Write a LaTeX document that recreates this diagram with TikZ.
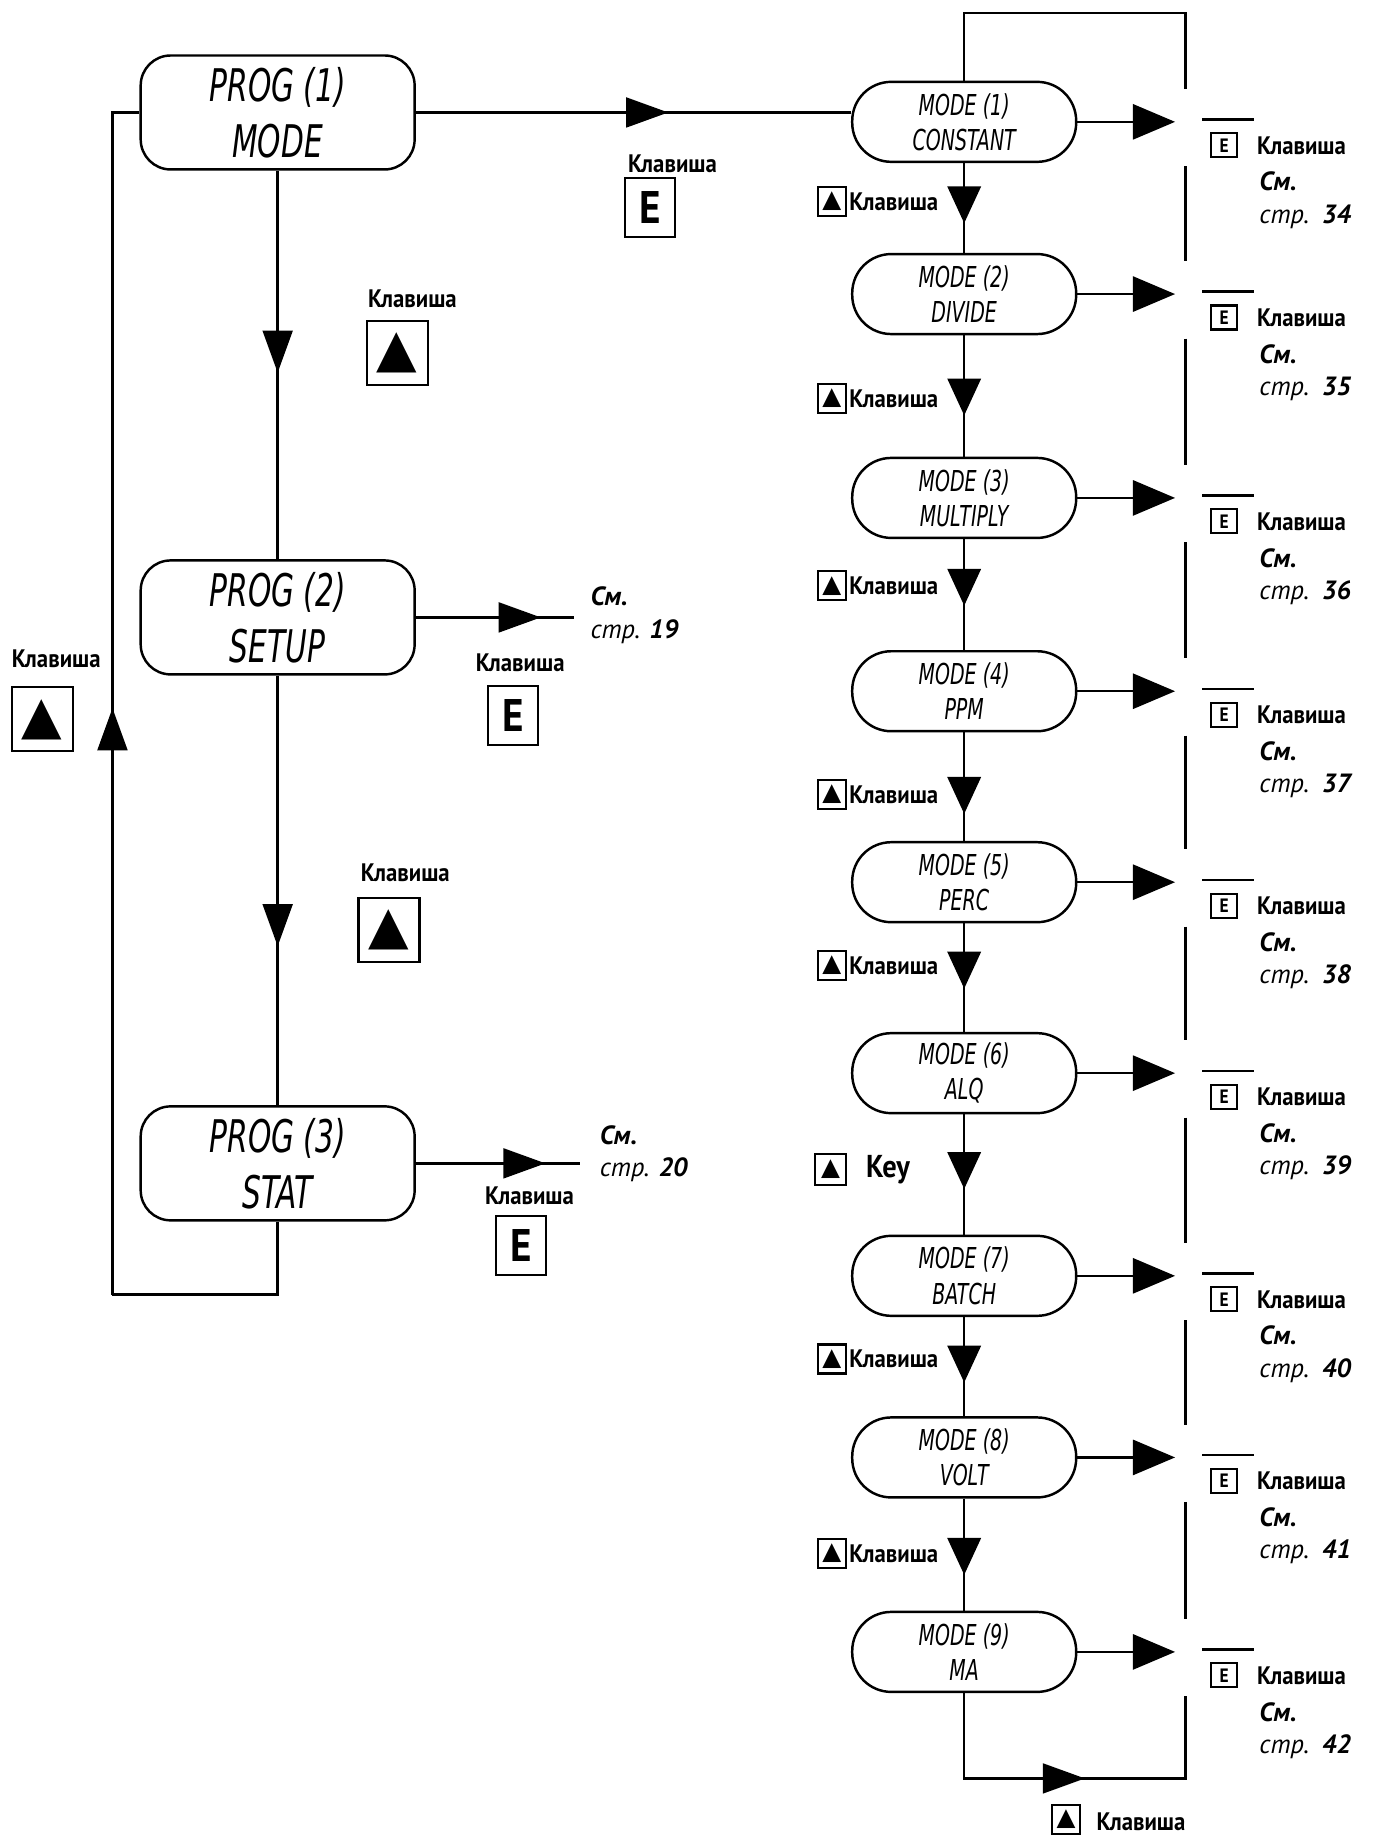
\documentclass[tikz,border=0pt]{standalone}
\usepackage{fontspec}
\setmainfont{PT Sans}
\newfontfamily\lcdfont{DejaVu Sans}[FakeStretch=0.66]
\newfontfamily\keyfont{PT Sans}[FakeStretch=0.9]
\newfontfamily\symfont{DejaVu Sans}
\usetikzlibrary{arrows.meta,decorations.markings,positioning}

\begin{document}
\begin{tikzpicture}[
    x=0.011712cm, y=-0.011712cm,
    line width=0.7pt,
    prog/.style={
        draw,
        rounded corners=3mm,
        minimum width=27.4mm,
        minimum height=11.4mm,
        inner sep=0pt,
        align=center,
        font=\lcdfont\itshape\fontsize{12.8}{16}\selectfont
    },
    mode/.style={
        draw,
        rounded corners=3.9mm,
        minimum width=22.4mm,
        minimum height=8mm,
        inner sep=0pt,
        align=center,
        font=\lcdfont\itshape\fontsize{8.2}{10}\selectfont
    },
    keyword/.style={inner sep=0pt, font=\keyfont\bfseries\fontsize{7.2}{9}\selectfont},
    ebox/.style={draw, line width=0.6pt, inner sep=0pt,
                 minimum width=5mm, minimum height=5.9mm,
                 font=\keyfont\bfseries\fontsize{13}{13}\selectfont},
    small ebox/.style={ebox, minimum width=2.6mm, minimum height=2.4mm,
                       font=\keyfont\bfseries\fontsize{5.5}{5.5}\selectfont},
    upbox/.style={draw, line width=0.6pt, inner sep=0pt,
                  minimum width=6.1mm, minimum height=6.4mm,
                  font=\symfont\fontsize{15}{15}\selectfont},
    small upbox/.style={upbox, minimum width=2.8mm, minimum height=2.9mm,
                        font=\symfont\fontsize{7}{7}\selectfont},
    page ref/.style={align=left, inner sep=0pt,
                     font=\itshape\fontsize{7.5}{9.2}\selectfont},
    tip/.style={-{Triangle[length=12pt,width=10pt]}},
    mid tip/.style={postaction={decorate},
        decoration={markings, mark=at position #1 with
            {\arrow{Triangle[length=12pt,width=8.5pt]}}}},
    mode tip/.style={postaction={decorate},
        decoration={markings, mark=at position #1 with
            {\arrow{Triangle[length=10.5pt,width=9.5pt]}}}}
]
    \useasboundingbox (0,0) rectangle (1174,1568);

    % program level
    \node[prog] (prog1) at (237,96) {PROG (1)\\MODE};
    \node[prog] (prog2) at (237,527) {PROG (2)\\SETUP};
    \node[prog] (prog3) at (237,993) {PROG (3)\\STAT};

    \draw[mid tip=0.52] (prog1) -- (prog2);
    \draw[mid tip=0.63] (prog2) -- (prog3);

    \coordinate (loop) at (96,1105);
    \draw (prog3.south) |- (loop);
    \draw[mid tip=0.485] (loop) |- (prog1.west);

    \node[keyword] at (48,562) {Клавиша};
    \node[upbox] at (36,614) {▲};
    \node[keyword] at (352,255) {Клавиша};
    \node[upbox] at (339,301) {▲};
    \node[keyword] at (346,745) {Клавиша};
    \node[upbox] at (332,794) {▲};

    \coordinate (ref2) at (490,527);
    \draw[mid tip=0.79] (prog2) -- (ref2);
    \node[page ref, anchor=west] at (503,525) {\textbf{См.}\\стр. \textbf{19}};
    \node[keyword] at (444,566) {Клавиша};
    \node[ebox] at (438,611) {E};

    \coordinate (ref3) at (495,993);
    \draw[mid tip=0.79] (prog3) -- (ref3);
    \node[page ref, anchor=west] at (511,985) {\textbf{См.}\\стр. \textbf{20}};
    \node[keyword] at (452,1021) {Клавиша};
    \node[ebox] at (445,1063) {E};

    % mode level
    \foreach \i/\y/\mname/\pg in {1/104/CONSTANT/34, 2/251/DIVIDE/35,
            3/425/MULTIPLY/36, 4/590/PPM/37, 5/753/PERC/38, 6/916/ALQ/39,
            7/1089/BATCH/40, 8/1244/VOLT/41, 9/1410/MA/42} {
        \node[mode] (m\i) at (823,\y) {MODE (\i)\\\mname};
        \coordinate (out\i) at (1003,\y);
        \draw[tip] (m\i) -- (out\i);
        \coordinate (bar\i) at (1026,\y-2);
        \draw (bar\i) -- ++(44,0);
        \node[small ebox] (e\i) at (1045,\y+20) {E};
        \node[keyword, anchor=west] (k\i) at (1072,\y+20) {Клавиша};
        \node[page ref, anchor=west] (p\i) at (1074,\y+67)
            {\textbf{См.}\\стр.\enspace\textbf{\pg}};
        \coordinate (gapA\i) at (1012,\y-28);
        \coordinate (gapB\i) at (1012,\y+38);
    }

    \draw[mid tip=0.58] (prog1.east) -- (prog1.east -| m1.west);
    \node[keyword] at (574,140) {Клавиша};
    \node[ebox] at (555,177) {E};

    \foreach \i/\j/\p/\ly in {1/2/0.67/172, 2/3/0.66/340, 3/4/0.6/500,
            4/5/0.75/678, 5/6/0.6/824, 7/8/0.66/1160, 8/9/0.68/1326} {
        \draw[mode tip=\p] (m\i) -- (m\j);
        \node[small upbox] at (710,\ly) {▲};
        \node[keyword, anchor=west] at (724,\ly) {Клавиша};
    }
    \draw[mode tip=0.62] (m6) -- (m7);
    \node[small upbox, minimum width=3.1mm, minimum height=3.1mm] at (709,998) {▲};
    \node[font=\keyfont\bfseries\fontsize{9}{9}\selectfont] at (758,998) {Key};

    % return line
    \coordinate (top right) at (1012,11);
    \draw (gapA1) -- (top right) -| (m1);
    \foreach \i/\j in {1/2,2/3,3/4,4/5,5/6,6/7,7/8,8/9} {
        \draw (gapB\i) -- (gapA\j);
    }
    \coordinate (bot right) at (1012,1518);
    \draw[mid tip=0.53] (m9) |- (bot right) -- (gapB9);
    \node[small upbox] at (910,1553) {▲};
    \node[keyword, anchor=west] at (935,1555) {Клавиша};
\end{tikzpicture}
\end{document}
